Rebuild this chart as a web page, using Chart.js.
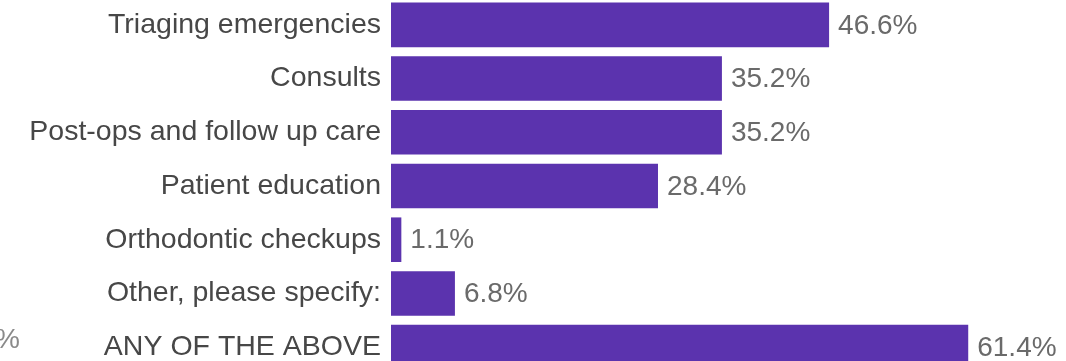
<!DOCTYPE html>
<html>
<head>
<meta charset="utf-8">
<script src="https://cdn.jsdelivr.net/npm/chart.js@4/dist/chart.umd.min.js"></script>
<style>
  html, body { margin: 0; padding: 0; background: #fff; overflow: hidden; }
  #wrap { position: relative; width: 1066px; height: 361px; overflow: hidden; }
  #wrap canvas { position: absolute; left: 0; top: -2px; }
</style>
</head>
<body>
<div id="wrap"><canvas id="bars" width="1066" height="376"></canvas></div>
<script>
// categories and shares (%)
const labels = [
  'Triaging emergencies',
  'Consults',
  'Post-ops and follow up care',
  'Patient education',
  'Orthodontic checkups',
  'Other, please specify:',
  'ANY OF THE ABOVE'
];
const shares = [46.6, 35.2, 35.2, 28.4, 1.1, 6.8, 61.4];

const FONT = '"Liberation Sans", Arial, sans-serif';

// percentage text to the right of each bar
const valueLabels = {
  id: 'valueLabels',
  afterDatasetsDraw(chart) {
    const ctx = chart.ctx;
    const meta = chart.getDatasetMeta(0);
    ctx.save();
    ctx.font = '28px ' + FONT;
    ctx.fillStyle = '#6a6a6a';
    ctx.textAlign = 'left';
    ctx.textBaseline = 'middle';
    meta.data.forEach((bar, i) => {
      ctx.fillText(shares[i].toFixed(1) + '%', bar.x + 9, bar.y + 1);
    });
    // clipped tick from the neighbouring panel
    ctx.fillStyle = '#8a8a8a';
    ctx.textAlign = 'right';
    ctx.fillText('%', 20, 342);
    ctx.restore();
  }
};

new Chart(document.getElementById('bars'), {
  type: 'bar',
  data: {
    labels: labels,
    datasets: [{
      data: shares,
      backgroundColor: '#5b33ae',
      borderWidth: 0,
      barPercentage: 0.83,
      categoryPercentage: 1.0
    }]
  },
  options: {
    indexAxis: 'y',
    responsive: false,
    animation: false,
    layout: { padding: 0 },
    plugins: { legend: { display: false }, tooltip: { enabled: false } },
    scales: {
      x: { display: false, min: 0, max: 71.8 },
      y: {
        // fixed label column; no extra room above/below the bars
        afterFit: s => { s.width = 391; s.paddingTop = 0; s.paddingBottom = 0; },
        grid: { display: false, drawTicks: false },
        border: { display: false },
        ticks: {
          padding: 10,
          color: '#474747',
          font: { family: FONT, size: 28.5 }
        }
      }
    }
  },
  plugins: [valueLabels]
});
</script>
</body>
</html>
